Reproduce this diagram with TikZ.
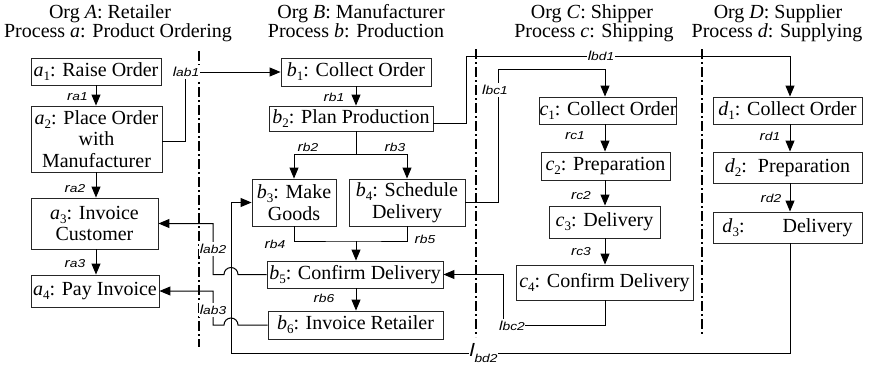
\documentclass[tikz,border=0pt]{standalone}
\usepackage{fontspec}
\usepackage{graphicx}
\setmainfont{Liberation Serif}
\setsansfont{Liberation Sans}
\usetikzlibrary{arrows.meta}

% step name with lowered index, e.g. a_1
\newcommand\pn[2]{\textit{#1}\raisebox{-4pt}{\fontsize{13}{13}\selectfont #2}}
% small relation / link tag, e.g. ra1, lab1
\newcommand\rl[2]{\scalebox{1.2}[1]{\sffamily\itshape\fontsize{13}{12}\selectfont #1\fontsize{11.5}{12}\selectfont #2}}

\begin{document}
\begin{tikzpicture}[x=1pt,y=-1pt,
  box/.style={draw=black!85, line width=0.9pt, inner sep=0pt, align=center,
    font=\fontsize{20}{21.5}\selectfont},
  flow/.style={line width=1pt, -{Triangle[length=11pt,width=9pt]}},
  link/.style={line width=1pt},
  rtag/.style={inner sep=0pt},
  ltag/.style={inner xsep=0.5pt, inner ysep=2pt, fill=white},
  lane/.style={line width=1.3pt, dash pattern=on 10pt off 3pt on 2pt off 3pt},
  title/.style={anchor=base, inner sep=0pt, font=\fontsize{20}{20}\selectfont}]

\useasboundingbox (0,0) rectangle (872,367);

% ---- column headings
\node[title] (tA1) at (110,18) {Org \textit{A}: Retailer};
\node[title] (tA2) at (118,37) {Process \textit{a}: Product Ordering};
\node[title] (tB1) at (361,18) {Org \textit{B}: Manufacturer};
\node[title] (tB2) at (356,37) {Process \textit{b}: Production};
\node[title] (tC1) at (592,18) {Org \textit{C}: Shipper};
\node[title] (tC2) at (594,37) {Process \textit{c}: Shipping};
\node[title] (tD1) at (778,18) {Org \textit{D}: Supplier};
\node[title] (tD2) at (777,37) {Process \textit{d}: Supplying};

% ---- organisation boundaries
\coordinate (ab1) at (199,51);  \coordinate (ab2) at (199,347);
\coordinate (bc1) at (476,49);  \coordinate (bc2) at (476,337);
\coordinate (cd1) at (702,49);  \coordinate (cd2) at (702,335);
\draw[lane] (ab1) -- (ab2);
\draw[lane] (bc1) -- (bc2);
\draw[lane] (cd1) -- (cd2);

% ---- process steps
\node[box, minimum width=130pt, minimum height=27pt] (a1) at (96,71.5) {\pn{a}{1}: Raise Order};
\node[box, minimum width=131pt, minimum height=66pt] (a2) at (96.5,139) {\pn{a}{2}: Place Order\\with\\Manufacturer};
\node[box, minimum width=127pt, minimum height=51pt] (a3) at (94.5,223.5) {\pn{a}{3}: Invoice\\Customer};
\node[box, minimum width=128pt, minimum height=32pt] (a4) at (95,291) {\pn{a}{4}: Pay Invoice};

\node[box, minimum width=150pt, minimum height=28pt] (b1) at (356,72) {\pn{b}{1}: Collect Order};
\node[box, minimum width=164pt, minimum height=25pt] (b2) at (351,118.5) {\pn{b}{2}: Plan Production};
\node[box, minimum width=84pt, minimum height=47pt] (b3) at (294,202.5) {\pn{b}{3}: Make\\Goods};
\node[box, minimum width=116pt, minimum height=47pt] (b4) at (407,202.5) {\pn{b}{4}: Schedule\\Delivery};
\node[box, minimum width=176pt, minimum height=27pt] (b5) at (355,274.5) {\pn{b}{5}: Confirm Delivery};
\node[box, minimum width=175pt, minimum height=28pt] (b6) at (355.5,325) {\pn{b}{6}: Invoice Retailer};

\node[box, minimum width=134pt, minimum height=27pt] (c1) at (608,110.5) {\pn{c}{1}: Collect Order};
\node[box, minimum width=129pt, minimum height=28pt] (c2) at (605.5,166) {\pn{c}{2}: Preparation};
\node[box, minimum width=111pt, minimum height=32pt] (c3) at (604.5,222) {\pn{c}{3}: Delivery};
\node[box, minimum width=177pt, minimum height=35pt] (c4) at (604.5,282.5) {\pn{c}{4}: Confirm Delivery};

\node[box, minimum width=149pt, minimum height=27pt] (d1) at (787.5,110.5) {\pn{d}{1}: Collect Order};
\node[box, minimum width=149pt, minimum height=31pt] (d2) at (787.5,167.5) {\pn{d}{2}:\hspace{11pt}Preparation};
\node[box, minimum width=149pt, minimum height=31pt] (d3) at (787.5,227.5) {\pn{d}{3}:\hspace{38pt}Delivery};

% ---- flow inside process a
\draw[flow] (a1.south -| 96,0) -- (a2.north -| 96,0);
\draw[flow] (a2.south -| 96,0) -- (a3.north -| 96,0);
\draw[flow] (a3.south -| 96,0) -- (a4.north -| 96,0);

% ---- flow inside process b
\draw[flow] (b1.south -| 356,0) -- (b2.north -| 356,0);
\coordinate (bsplit) at (356,154);
\coordinate (bjoin) at (356,241);
\draw[link] (b2.south -| 356,0) -- (bsplit);
\draw[flow] (bsplit) -| (b3.north);
\draw[flow] (bsplit) -| (b4.north);
\draw[link] (b3.south) |- (bjoin) -| (b4.south);
\draw[flow] (bjoin) -- (b5.north -| 356,0);
\draw[flow] (b5.south -| 356,0) -- (b6.north -| 356,0);

% ---- flow inside process c
\draw[flow] (c1.south -| 605,0) -- (c2.north -| 605,0);
\draw[flow] (c2.south -| 605,0) -- (c3.north -| 605,0);
\draw[flow] (c3.south -| 605,0) -- (c4.north -| 605,0);

% ---- flow inside process d
\draw[flow] (d1.south -| 790,0) -- (d2.north -| 790,0);
\draw[flow] (d2.south -| 790,0) -- (d3.north -| 790,0);

% ---- links between organisations
\draw[flow] (a2.east |- 0,141) -| (185,72) -- (b1.west);
\draw[flow] (b2.east |- 0,123) -| (466,56) -| (d1.north -| 790,0);
\draw[flow] (b4.east) -| (498,69) -| (c1.north -| 605,0);
\draw[flow] (c4.south -| 605,0) |- (503,325) |- (b5.east);
\draw[flow] (d3.south -| 790,0) |- (231,353) |- (b3.west);
\draw[flow] (b5.west) -- (b5.west -| 238,0) arc[start angle=0, end angle=180, radius=7pt]
  -- (b5.west -| 213,0) |- (a3.east);
\draw[flow] (b6.west) -- (b6.west -| 238,0) arc[start angle=0, end angle=180, radius=7pt]
  -- (b6.west -| 213,0) |- (a4.east);

% ---- relation tags
\node[rtag] (ra1) at (77.5,97) {\rl{r}{a1}};
\node[rtag] (ra2) at (75,189) {\rl{r}{a2}};
\node[rtag] (ra3) at (75,264) {\rl{r}{a3}};
\node[rtag] (rb1) at (334,97) {\rl{r}{b1}};
\node[rtag] (rb2) at (308,147) {\rl{r}{b2}};
\node[rtag] (rb3) at (395,147) {\rl{r}{b3}};
\node[rtag] (rb4) at (275,244) {\rl{r}{b4}};
\node[rtag] (rb5) at (425,239) {\rl{r}{b5}};
\node[rtag] (rb6) at (324,298) {\rl{r}{b6}};
\node[rtag] (rc1) at (575,136) {\rl{r}{c1}};
\node[rtag] (rc2) at (581,196) {\rl{r}{c2}};
\node[rtag] (rc3) at (581,252) {\rl{r}{c3}};
\node[rtag] (rd1) at (770,136) {\rl{r}{d1}};
\node[rtag] (rd2) at (771,198) {\rl{r}{d2}};

% ---- link tags
\node[ltag] (lab1) at (186,72) {\rl{l}{ab1}};
\node[ltag] (lab2) at (213,249) {\rl{l}{ab2}};
\node[ltag] (lab3) at (213,310) {\rl{l}{ab3}};
\node[ltag] (lbc1) at (495,90) {\rl{l}{bc1}};
\node[ltag] (lbc2) at (512,326) {\rl{l}{bc2}};
\node[ltag] (lbd1) at (601,56) {\rl{l}{bd1}};
\node[ltag, anchor=west] (lbd2) at (469,353)
  {\scalebox{1.2}[1]{\sffamily\itshape{\fontsize{18}{18}\selectfont l}\raisebox{-6pt}{\fontsize{11.5}{11.5}\selectfont bd2}}};
\end{tikzpicture}
\end{document}
